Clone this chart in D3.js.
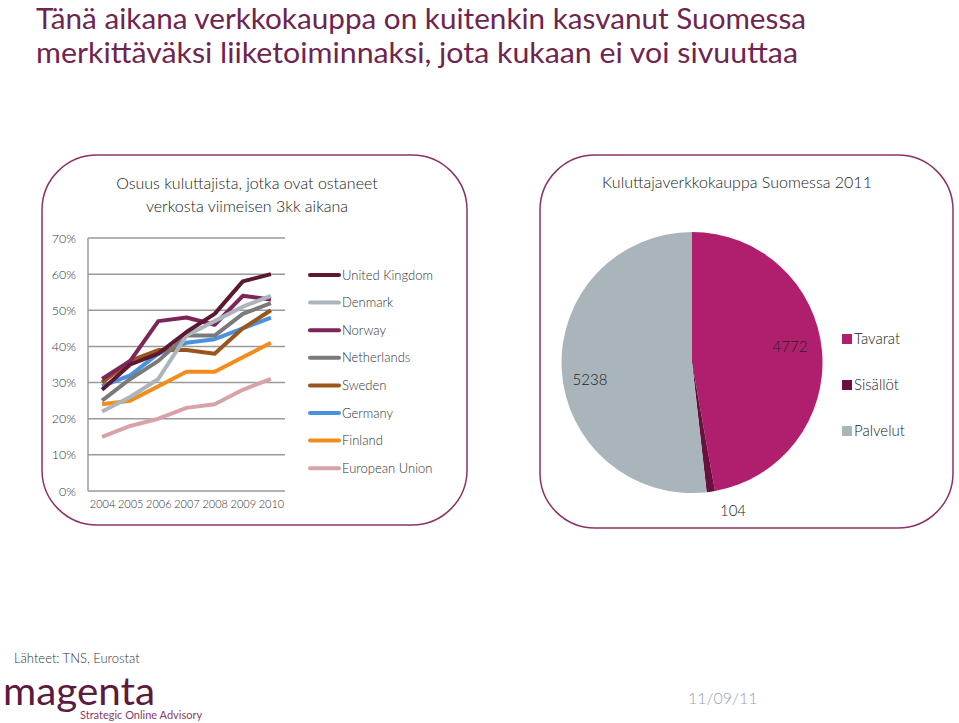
<!DOCTYPE html>
<html>
<head>
<meta charset="utf-8">
<script src="https://cdn.jsdelivr.net/npm/d3@7"></script>
<style>
  body { margin: 0; background: #fff; }
  svg { font-family: Lato, "Open Sans", sans-serif; }
</style>
</head>
<body>
<svg id="chart" width="959" height="723"></svg>
<script>
const years = [2004, 2005, 2006, 2007, 2008, 2009, 2010];
const yTicks = [0, 10, 20, 30, 40, 50, 60, 70];

const countries = ['United Kingdom', 'Denmark', 'Norway', 'Netherlands', 'Sweden', 'Germany', 'Finland', 'European Union'];
const countryColors = ['#5e1733', '#abb5bb', '#7d2458', '#7a7a7c', '#99561c', '#4a93dc', '#f28c1c', '#d8a3a6'];

const ukValues = [28, 35, 38, 44, 49, 58, 60];
const denmarkValues = [22, 26, 31, 43, 47, 51, 54];
const norwayValues = [31, 36, 47, 48, 46, 54, 53];
const netherlandsValues = [25, 31, 36, 43, 43, 49, 52];
const swedenValues = [30, 36, 39, 39, 38, 45, 50];
const germanyValues = [29, 32, 38, 41, 42, 45, 48];
const finlandValues = [24, 25, 29, 33, 33, 37, 41];
const euValues = [15, 18, 20, 23, 24, 28, 31];
const seriesValues = [ukValues, denmarkValues, norwayValues, netherlandsValues, swedenValues, germanyValues, finlandValues, euValues];

const pieCategories = ['Tavarat', 'Sisällöt', 'Palvelut'];
const pieValues = [4772, 104, 5238];
const pieColors = ['#b01f6e', '#6b0f3e', '#a9b4bb'];

const svg = d3.select('#chart');

// TITLE
const titleLines = ['Tänä aikana verkkokauppa on kuitenkin kasvanut Suomessa', 'merkittäväksi liiketoiminnaksi, jota kukaan ei voi sivuuttaa'];
svg.selectAll('text.title')
  .data(titleLines)
  .join('text')
  .attr('class', 'title')
  .attr('x', 36)
  .attr('y', (d, i) => 29 + i * 34)
  .attr('fill', '#6e2550')
  .style('font-size', '28px')
  .attr('textLength', (d, i) => i == 0 ? 770 : 762)
  .attr('lengthAdjust', 'spacingAndGlyphs')
  .text(d => d);

// BOXES
svg.append('rect')
  .attr('x', 42).attr('y', 155).attr('width', 425).attr('height', 370)
  .attr('rx', 55).attr('ry', 55)
  .attr('fill', 'none').attr('stroke', '#8a3366').attr('stroke-width', 1.5);

svg.append('rect')
  .attr('x', 540).attr('y', 155).attr('width', 413).attr('height', 373)
  .attr('rx', 55).attr('ry', 55)
  .attr('fill', 'none').attr('stroke', '#8a3366').attr('stroke-width', 1.5);

// LINE CHART
const lineTitle = ['Osuus kuluttajista, jotka ovat ostaneet', 'verkosta viimeisen 3kk aikana'];
svg.selectAll('text.ltitle')
  .data(lineTitle)
  .join('text')
  .attr('class', 'ltitle')
  .attr('x', 247)
  .attr('y', (d, i) => 189 + i * 23)
  .attr('text-anchor', 'middle')
  .attr('fill', '#222')
  .style('font-size', '16px')
  .style('font-weight', 300)
  .text(d => d);

const xScale = d3.scalePoint()
  .domain(years)
  .range([88, 285])
  .padding(0.5);

const yScale = d3.scaleLinear()
  .domain([0, 70])
  .range([491, 238]);

// grid
svg.append('g')
  .selectAll('line')
  .data(yTicks)
  .join('line')
  .attr('x1', 88).attr('x2', 285)
  .attr('y1', d => yScale(d)).attr('y2', d => yScale(d))
  .attr('stroke', '#9a9a9a').attr('stroke-width', 1.5);

svg.append('line')
  .attr('x1', 88).attr('x2', 88)
  .attr('y1', yScale(70)).attr('y2', yScale(0))
  .attr('stroke', '#9a9a9a').attr('stroke-width', 1.5);

// Y AXIS
const yAxis = svg.append('g')
  .attr('transform', `translate(76, 0)`)
  .call(d3.axisLeft(yScale).tickValues(yTicks).tickSize(0).tickFormat(d => d + '%'));
yAxis.select('.domain').remove();
yAxis.selectAll('text')
  .attr('x', 0)
  .attr('fill', '#333')
  .style('font-size', '12.5px')
  .style('font-weight', 300)
  .style('font-family', 'Lato, sans-serif');

// X AXIS
const xAxis = svg.append('g')
  .attr('transform', `translate(0, ${yScale(0) + 6})`)
  .call(d3.axisBottom(xScale).tickSize(0));
xAxis.select('.domain').remove();
xAxis.selectAll('text')
  .attr('fill', '#333')
  .style('font-size', '11px')
  .style('font-weight', 300)
  .style('font-family', 'Lato, sans-serif');

const line = d3.line()
  .x((d, i) => xScale(years[i]))
  .y(d => yScale(d));

// draw so UK ends up on top, EU at the bottom
const order = d3.range(countries.length).reverse();
svg.append('g')
  .selectAll('path')
  .data(order)
  .join('path')
  .attr('d', i => line(seriesValues[i]))
  .attr('fill', 'none')
  .attr('stroke', i => countryColors[i])
  .attr('stroke-width', 4)
  .attr('stroke-linejoin', 'round');

// legend
const legend = svg.append('g')
  .selectAll('g')
  .data(countries)
  .join('g')
  .attr('transform', (d, i) => `translate(310, ${275 + i * 27.6})`);
legend.append('line')
  .attr('x1', 0).attr('x2', 29)
  .attr('stroke', (d, i) => countryColors[i])
  .attr('stroke-width', 4)
  .attr('stroke-linecap', 'round');
legend.append('text')
  .attr('x', 32)
  .attr('dy', '0.35em')
  .attr('fill', '#333')
  .style('font-size', '13px')
  .style('font-weight', 300)
  .text(d => d);

// PIE
svg.append('text')
  .attr('x', 737).attr('y', 188)
  .attr('text-anchor', 'middle')
  .attr('fill', '#222')
  .style('font-size', '16px')
  .style('font-weight', 300)
  .text('Kuluttajaverkkokauppa Suomessa 2011');

const pie = d3.pie().sort(null).value(d => d);
const arc = d3.arc().innerRadius(0).outerRadius(130.5);
const pieGroup = svg.append('g').attr('transform', 'translate(692, 362.5)');
pieGroup.selectAll('path')
  .data(pie(pieValues))
  .join('path')
  .attr('d', arc)
  .attr('fill', (d, i) => pieColors[i]);

const labelPos = [[98, -16], [41, 148], [-102, 17]];
pieGroup.selectAll('text')
  .data(pieValues)
  .join('text')
  .attr('x', (d, i) => labelPos[i][0])
  .attr('y', (d, i) => labelPos[i][1])
  .attr('dy', '0.35em')
  .attr('text-anchor', 'middle')
  .attr('fill', '#222')
  .style('font-size', '15px')
  .style('font-weight', 300)
  .text(d => d);

const pieLegend = svg.append('g')
  .selectAll('g')
  .data(pieCategories)
  .join('g')
  .attr('transform', (d, i) => `translate(842, ${339 + i * 46})`);
pieLegend.append('rect')
  .attr('x', 0).attr('y', -5)
  .attr('width', 10).attr('height', 10)
  .attr('fill', (d, i) => pieColors[i]);
pieLegend.append('text')
  .attr('x', 12)
  .attr('dy', '0.35em')
  .attr('fill', '#222')
  .style('font-size', '15px')
  .style('font-weight', 300)
  .text(d => d);

// FOOTER
svg.append('text')
  .attr('x', 14).attr('y', 663)
  .attr('fill', '#333')
  .style('font-size', '13px')
  .style('font-weight', 300)
  .text('Lähteet: TNS, Eurostat');

svg.append('text')
  .attr('x', 3).attr('y', 705)
  .attr('fill', '#5c1a40')
  .style('font-size', '38px')
  .attr('textLength', 152)
  .attr('lengthAdjust', 'spacingAndGlyphs')
  .text('magenta');

svg.append('text')
  .attr('x', 80).attr('y', 719)
  .attr('fill', '#8b3a6a')
  .style('font-size', '11px')
  .text('Strategic Online Advisory');

svg.append('text')
  .attr('x', 688).attr('y', 704)
  .attr('fill', '#9a9fae')
  .style('font-size', '16px')
  .style('font-weight', 300)
  .text('11/09/11');
</script>
</body>
</html>
